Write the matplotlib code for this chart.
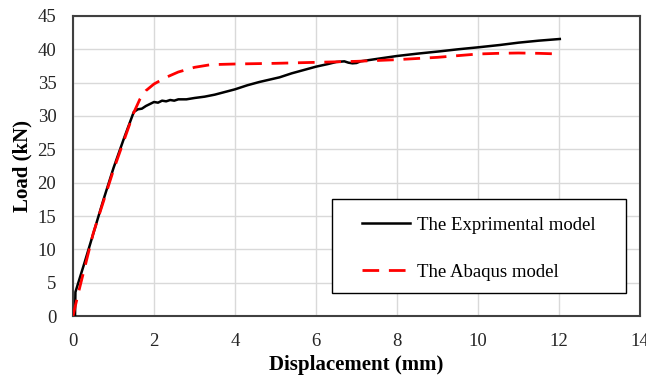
import matplotlib
matplotlib.use("Agg")
import matplotlib.pyplot as plt
from matplotlib.patches import Rectangle

# Experimental curve
exp_x = [0, 0.05, 0.06, 0.3, 0.75, 1.0, 1.25, 1.5, 1.6, 1.7, 1.8, 1.9, 2.0, 2.1, 2.2, 2.3, 2.4, 2.5,
         2.6, 2.8, 3.0, 3.25, 3.5, 3.75, 4.0, 4.3, 4.6, 5.1, 5.4, 5.7, 6.0, 6.3, 6.5, 6.7, 6.8,
         6.9, 7.0, 7.1, 7.6, 8.0, 8.5, 9.06, 9.5, 10.0, 10.54, 11.0, 11.5, 12.02]
exp_y = [0, 0, 3.6, 8.3, 17.4, 22.2, 26.5, 30.6, 31.0, 31.1, 31.5, 31.8, 32.1, 32.0, 32.3, 32.2,
         32.4, 32.3, 32.5, 32.5, 32.7, 32.9, 33.2, 33.6, 34.0, 34.6, 35.1, 35.8, 36.4, 36.9, 37.4,
         37.8, 38.1, 38.2, 38.0, 37.9, 37.95, 38.2, 38.65, 39.0, 39.35, 39.7, 40.0, 40.3, 40.65,
         41.0, 41.3, 41.55]

# Abaqus model curve
abq_x = [0, 0.13, 0.5, 1.0, 1.5, 1.65, 1.8, 2.0, 2.3, 2.6, 3.0, 3.4, 4.0, 5.0, 6.0, 7.0, 8.0,
         9.0, 10.0, 10.5, 11.0, 11.5, 12.02]
abq_y = [0, 3.4, 12.4, 21.9, 30.5, 32.5, 33.8, 34.8, 35.8, 36.6, 37.3, 37.7, 37.8, 37.9, 38.05,
         38.2, 38.45, 38.8, 39.3, 39.4, 39.45, 39.4, 39.3]

x_ticks = [0, 2, 4, 6, 8, 10, 12, 14]
y_ticks = [0, 5, 10, 15, 20, 25, 30, 35, 40, 45]

plt.rcParams['font.family'] = ['Liberation Serif', 'DejaVu Serif']

fig = plt.figure(figsize=(6.46, 3.79), dpi=100)
ax = fig.add_axes([0.113, 0.1662, 0.8777, 0.7916])

ax.plot(exp_x, exp_y, color='black', lw=1.8, label='The Exprimental model', zorder=3)
ax.plot(abq_x, abq_y, color='#ff0000', lw=2.0, ls=(0, (6, 3.5)), label='The Abaqus model', zorder=4)

ax.set_xlim(0, 14)
ax.set_ylim(0, 45)
ax.set_xticks(x_ticks)
ax.set_yticks(y_ticks)
ax.tick_params(length=0, labelsize=13.5, colors='#262626', pad=12)
ax.grid(True, color='#d9d9d9', lw=1.0)
ax.set_axisbelow(True)
for s in ax.spines.values():
    s.set_color('#404040')
    s.set_linewidth(1.5)

ax.set_xlabel('Displacement (mm)', fontsize=15, fontweight='bold', labelpad=4)
ax.set_ylabel('Load (kN)', fontsize=15, fontweight='bold', labelpad=4)

# legend frame
frame = Rectangle((0.4568, 0.0767), 0.5185, 0.3133, transform=ax.transAxes,
                  facecolor='white', edgecolor='black', lw=1.0, zorder=5)
ax.add_patch(frame)

leg = ax.legend(loc='upper left', bbox_to_anchor=(0.5097, 0.332), fontsize=13.5,
                frameon=False, borderpad=0, labelspacing=1.6, handlelength=2.55,
                handletextpad=0.37, borderaxespad=0)
leg.set_zorder(6)

fig.savefig('out.png', dpi=100)
